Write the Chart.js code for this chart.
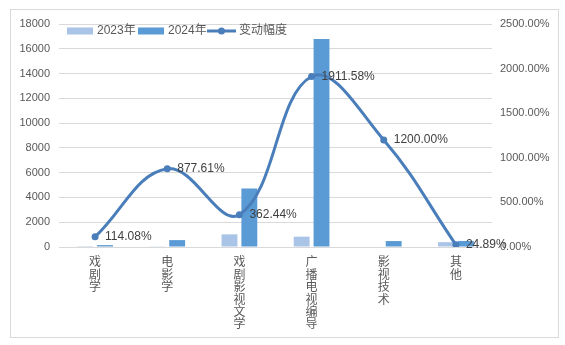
<!DOCTYPE html>
<html>
<head>
<meta charset="utf-8">
<script src="https://cdn.jsdelivr.net/npm/chart.js@4/dist/chart.umd.min.js"></script>
<style>
  html, body { margin: 0; padding: 0; background: #fff; }
  #wrap { width: 565px; height: 345px; }
</style>
</head>
<body>
<div id="wrap"><canvas id="majorChart"></canvas></div>
<script>
// data
var categories = ['戏剧学', '电影学', '戏剧影视文学', '广播电视编导', '影视技术', '其他'];
var count2023 = [71, 57, 1021, 835, 37, 390];
var count2024 = [152, 557, 4721, 16790, 481, 487];
var changePct = [114.08, 877.61, 362.44, 1911.58, 1200.00, 24.89];
var seriesNames = ['2023年', '2024年', '变动幅度'];

var FONT = "'Liberation Sans', 'Noto Sans CJK SC', sans-serif";
var c2023 = '#a9c4e7';
var c2024 = '#5b9bd5';
var cLine = '#4a7ebb';

// frame + white background
var framePlugin = {
    id: 'frame',
    beforeDraw: function(chart) {
        var ctx = chart.ctx;
        ctx.save();
        ctx.fillStyle = '#fff';
        ctx.fillRect(0, 0, chart.width, chart.height);
        ctx.strokeStyle = '#d9d9d9';
        ctx.lineWidth = 1;
        ctx.strokeRect(10.5, 9.5, 548, 328);
        ctx.restore();
    }
};

// percent labels to the right of each line point
var pctLabels = {
    id: 'pctLabels',
    afterDatasetsDraw: function(chart) {
        var ctx = chart.ctx;
        var meta = chart.getDatasetMeta(2);
        ctx.save();
        ctx.font = '12px ' + FONT;
        ctx.fillStyle = '#404040';
        ctx.textAlign = 'left';
        ctx.textBaseline = 'middle';
        meta.data.forEach(function(pt, i) {
            ctx.fillText(changePct[i].toFixed(2) + '%', pt.x + 10, pt.y);
        });
        ctx.restore();
    }
};

// legend drawn inside the plot, top left
var topLegend = {
    id: 'topLegend',
    afterDraw: function(chart) {
        var ctx = chart.ctx;
        var y = 31;
        ctx.save();
        ctx.font = '12px ' + FONT;
        ctx.textBaseline = 'middle';
        ctx.textAlign = 'left';

        ctx.fillStyle = c2023;
        ctx.fillRect(67, y - 3.5, 26, 7);
        ctx.fillStyle = '#595959';
        ctx.fillText(seriesNames[0], 97, y);

        ctx.fillStyle = c2024;
        ctx.fillRect(138, y - 3.5, 26, 7);
        ctx.fillStyle = '#595959';
        ctx.fillText(seriesNames[1], 168, y);

        ctx.strokeStyle = cLine;
        ctx.lineWidth = 3;
        ctx.beginPath();
        ctx.moveTo(207, y);
        ctx.lineTo(236, y);
        ctx.stroke();
        ctx.fillStyle = cLine;
        ctx.beginPath();
        ctx.arc(221.5, y, 3.5, 0, Math.PI * 2);
        ctx.fill();
        ctx.fillStyle = '#595959';
        ctx.fillText(seriesNames[2], 239, y);
        ctx.restore();
    }
};

var ctx = document.getElementById('majorChart');

var myChart = new Chart(ctx, {
    type: 'bar',
    data: {
        labels: categories.map(function(c) { return c.split(''); }),
        datasets: [{
            label: seriesNames[0],
            data: count2023,
            backgroundColor: c2023,
            yAxisID: 'y',
            order: 2
        }, {
            label: seriesNames[1],
            data: count2024,
            backgroundColor: c2024,
            yAxisID: 'y',
            order: 2
        }, {
            type: 'line',
            label: seriesNames[2],
            data: changePct,
            borderColor: cLine,
            backgroundColor: cLine,
            borderWidth: 3,
            pointRadius: 3.5,
            pointBackgroundColor: cLine,
            pointBorderWidth: 0,
            tension: 0.4,
            yAxisID: 'y1',
            order: 1
        }]
    },
    options: {
        responsive: true,
        maintainAspectRatio: false,
        animation: false,
        categoryPercentage: 0.55,
        barPercentage: 0.8,
        layout: {
            padding: { top: 24, left: 0, right: 0, bottom: 0 }
        },
        plugins: {
            legend: { display: false },
            tooltip: { enabled: false }
        },
        scales: {
            x: {
                grid: { display: false, drawTicks: false },
                border: { color: '#d9d9d9' },
                ticks: {
                    color: '#595959',
                    font: { family: FONT, size: 12, lineHeight: 1.03 },
                    maxRotation: 0,
                    autoSkip: false,
                    padding: 10
                },
                afterFit: function(s) { s.height = 98; }
            },
            y: {
                position: 'left',
                min: 0,
                max: 18000,
                ticks: {
                    stepSize: 2000,
                    color: '#595959',
                    font: { family: FONT, size: 11 },
                    padding: 9,
                    callback: function(v) { return String(v); }
                },
                grid: { color: '#d9d9d9', drawTicks: false },
                border: { display: false },
                afterFit: function(s) { s.width = 59; }
            },
            y1: {
                position: 'right',
                min: 0,
                max: 2500,
                ticks: {
                    stepSize: 500,
                    color: '#595959',
                    font: { family: FONT, size: 11 },
                    padding: 8,
                    callback: function(v) { return v.toFixed(2) + '%'; }
                },
                grid: { display: false, drawTicks: false },
                border: { display: false },
                afterFit: function(s) { s.width = 73; }
            }
        }
    },
    plugins: [framePlugin, pctLabels, topLegend]
});
</script>
</body>
</html>
